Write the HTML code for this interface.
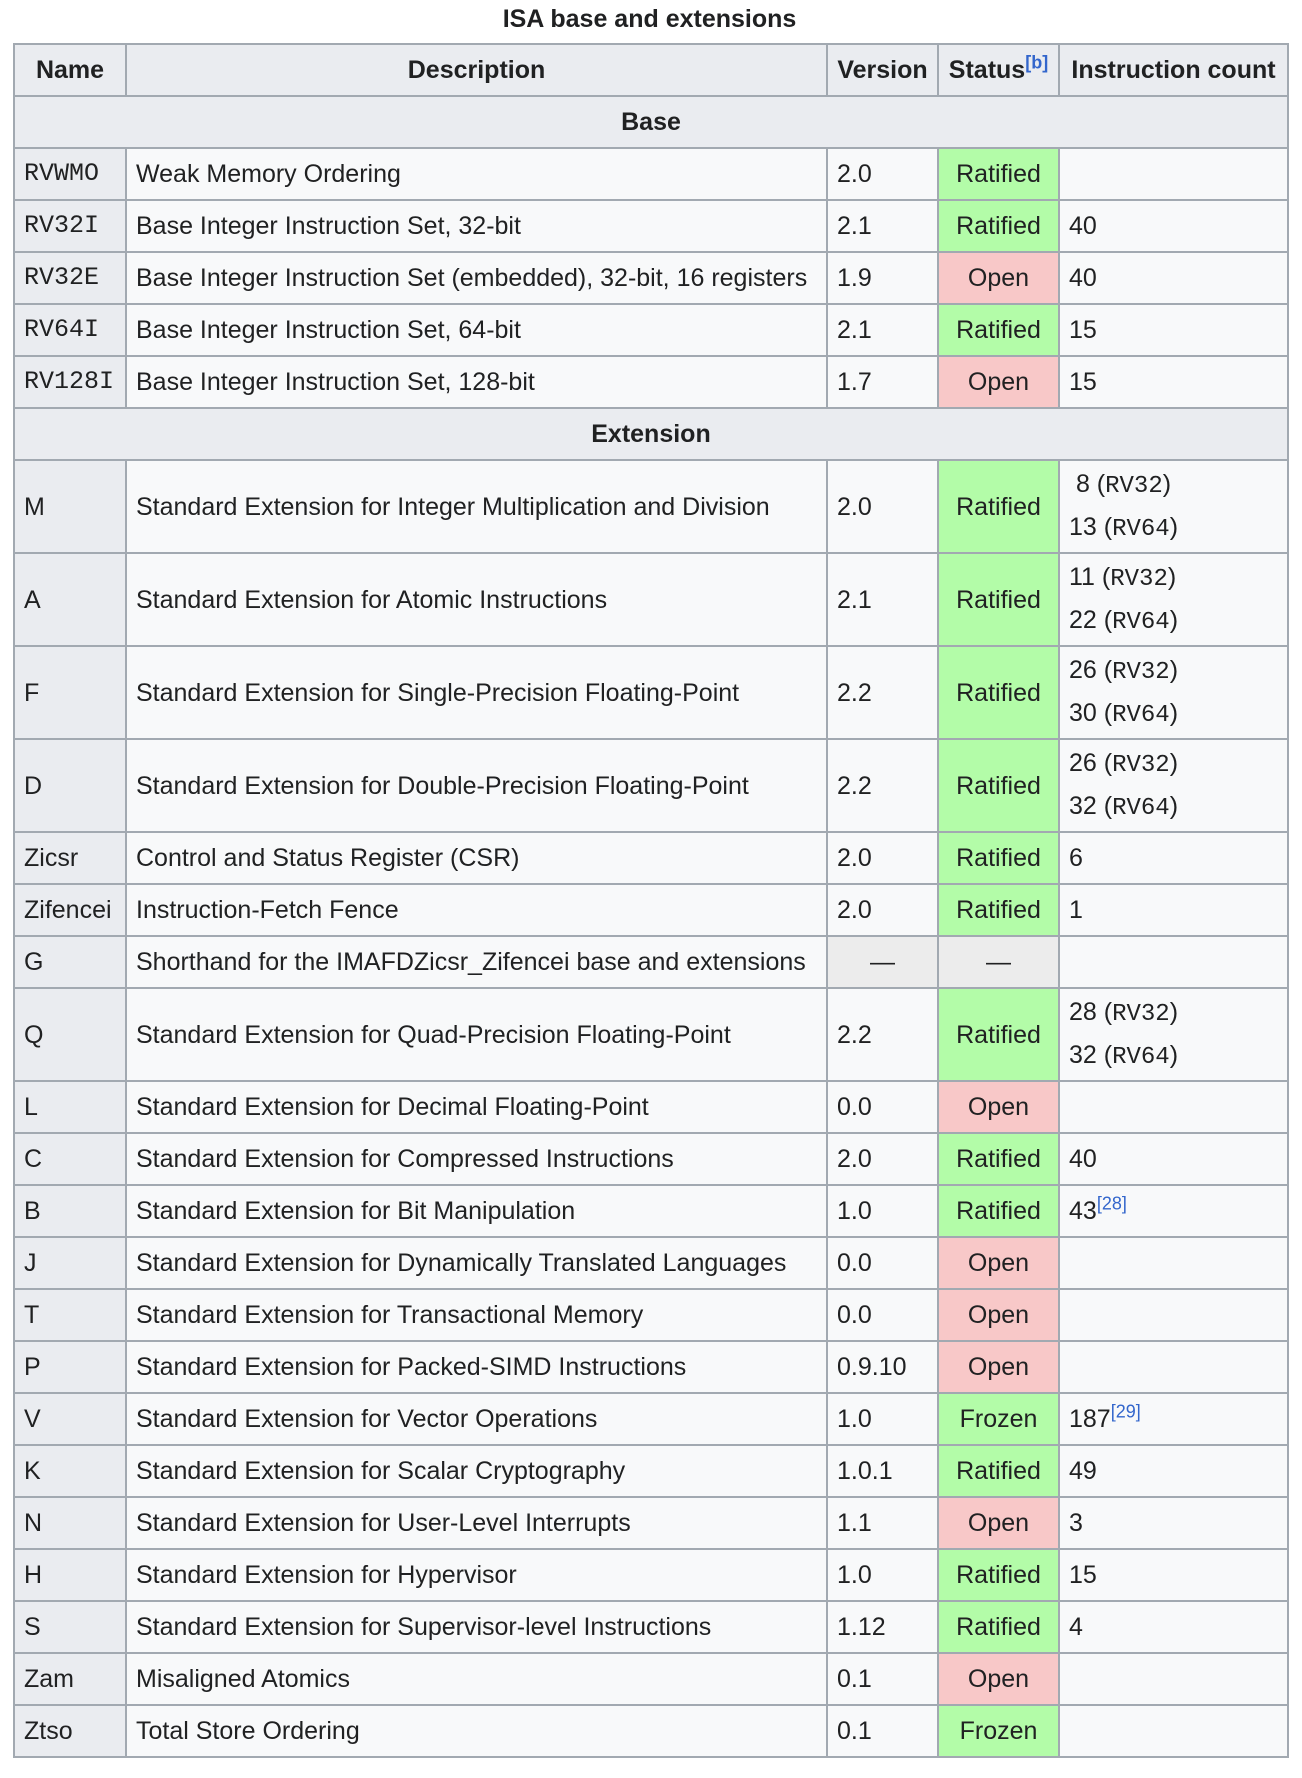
<!DOCTYPE html>
<html><head><meta charset="utf-8">
<style>
html,body{margin:0;padding:0;background:#fff;width:1302px;height:1778px;overflow:hidden}
body{font-family:"Liberation Sans",Arial,sans-serif;color:#202122;font-size:25px}
.cap{position:absolute;left:13px;width:1273px;top:5px;text-align:center;font-weight:bold;font-size:25px}
table{position:absolute;left:13px;top:43px;border-collapse:collapse;table-layout:fixed;width:1274px;background:#f8f9fa;border:2px solid #a2a9b1}
td,th{border:2px solid #a2a9b1;padding:0 9px;vertical-align:middle;line-height:40px;font-weight:normal;text-align:left;white-space:nowrap}
th{background:#eaecf0}
thead th{font-weight:bold;text-align:center}
th.sec{font-weight:bold;text-align:center}
tr{height:52px}
tr.two{height:93px}
.mono{font-family:"Liberation Mono",monospace;font-size:25px}
td .mono{font-size:24px}
.y{background:#b3fca8;text-align:center}
.n{background:#f8c8c8;text-align:center}
.g{background:#ececec;text-align:center}
sup{color:#3366cc;font-size:18px;line-height:0}
</style></head><body>
<div class="cap">ISA base and extensions</div>
<table>
<colgroup><col style="width:112px"><col style="width:701px"><col style="width:111px"><col style="width:121px"><col style="width:229px"></colgroup>
<thead><tr><th>Name</th><th>Description</th><th>Version</th><th>Status<sup>[b]</sup></th><th style="padding:0 4px">Instruction count</th></tr></thead>
<tbody>
<tr><th colspan="5" class="sec">Base</th></tr>
<tr><th class="mono">RVWMO</th><td>Weak Memory Ordering</td><td>2.0</td><td class="y">Ratified</td><td></td></tr>
<tr><th class="mono">RV32I</th><td>Base Integer Instruction Set, 32-bit</td><td>2.1</td><td class="y">Ratified</td><td>40</td></tr>
<tr><th class="mono">RV32E</th><td>Base Integer Instruction Set (embedded), 32-bit, 16 registers</td><td>1.9</td><td class="n">Open</td><td>40</td></tr>
<tr><th class="mono">RV64I</th><td>Base Integer Instruction Set, 64-bit</td><td>2.1</td><td class="y">Ratified</td><td>15</td></tr>
<tr><th class="mono">RV128I</th><td>Base Integer Instruction Set, 128-bit</td><td>1.7</td><td class="n">Open</td><td>15</td></tr>
<tr><th colspan="5" class="sec">Extension</th></tr>
<tr class="two"><th>M</th><td>Standard Extension for Integer Multiplication and Division</td><td>2.0</td><td class="y">Ratified</td><td>&nbsp;8 (<span class="mono">RV32</span>)<br>13 (<span class="mono">RV64</span>)</td></tr>
<tr class="two"><th>A</th><td>Standard Extension for Atomic Instructions</td><td>2.1</td><td class="y">Ratified</td><td>11 (<span class="mono">RV32</span>)<br>22 (<span class="mono">RV64</span>)</td></tr>
<tr class="two"><th>F</th><td>Standard Extension for Single-Precision Floating-Point</td><td>2.2</td><td class="y">Ratified</td><td>26 (<span class="mono">RV32</span>)<br>30 (<span class="mono">RV64</span>)</td></tr>
<tr class="two"><th>D</th><td>Standard Extension for Double-Precision Floating-Point</td><td>2.2</td><td class="y">Ratified</td><td>26 (<span class="mono">RV32</span>)<br>32 (<span class="mono">RV64</span>)</td></tr>
<tr><th>Zicsr</th><td>Control and Status Register (CSR)</td><td>2.0</td><td class="y">Ratified</td><td>6</td></tr>
<tr><th>Zifencei</th><td>Instruction-Fetch Fence</td><td>2.0</td><td class="y">Ratified</td><td>1</td></tr>
<tr><th>G</th><td>Shorthand for the IMAFDZicsr_Zifencei base and extensions</td><td class="g">—</td><td class="g">—</td><td></td></tr>
<tr class="two"><th>Q</th><td>Standard Extension for Quad-Precision Floating-Point</td><td>2.2</td><td class="y">Ratified</td><td>28 (<span class="mono">RV32</span>)<br>32 (<span class="mono">RV64</span>)</td></tr>
<tr><th>L</th><td>Standard Extension for Decimal Floating-Point</td><td>0.0</td><td class="n">Open</td><td></td></tr>
<tr><th>C</th><td>Standard Extension for Compressed Instructions</td><td>2.0</td><td class="y">Ratified</td><td>40</td></tr>
<tr><th>B</th><td>Standard Extension for Bit Manipulation</td><td>1.0</td><td class="y">Ratified</td><td>43<sup>[28]</sup></td></tr>
<tr><th>J</th><td>Standard Extension for Dynamically Translated Languages</td><td>0.0</td><td class="n">Open</td><td></td></tr>
<tr><th>T</th><td>Standard Extension for Transactional Memory</td><td>0.0</td><td class="n">Open</td><td></td></tr>
<tr><th>P</th><td>Standard Extension for Packed-SIMD Instructions</td><td>0.9.10</td><td class="n">Open</td><td></td></tr>
<tr><th>V</th><td>Standard Extension for Vector Operations</td><td>1.0</td><td class="y">Frozen</td><td>187<sup>[29]</sup></td></tr>
<tr><th>K</th><td>Standard Extension for Scalar Cryptography</td><td>1.0.1</td><td class="y">Ratified</td><td>49</td></tr>
<tr><th>N</th><td>Standard Extension for User-Level Interrupts</td><td>1.1</td><td class="n">Open</td><td>3</td></tr>
<tr><th>H</th><td>Standard Extension for Hypervisor</td><td>1.0</td><td class="y">Ratified</td><td>15</td></tr>
<tr><th>S</th><td>Standard Extension for Supervisor-level Instructions</td><td>1.12</td><td class="y">Ratified</td><td>4</td></tr>
<tr><th>Zam</th><td>Misaligned Atomics</td><td>0.1</td><td class="n">Open</td><td></td></tr>
<tr><th>Ztso</th><td>Total Store Ordering</td><td>0.1</td><td class="y">Frozen</td><td></td></tr>
</tbody></table>
</body></html>
